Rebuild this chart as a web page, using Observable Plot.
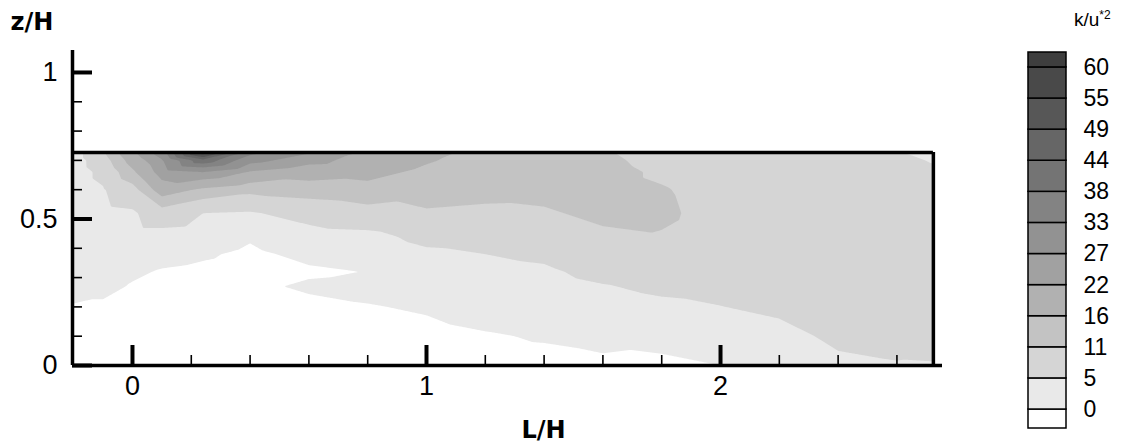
<!DOCTYPE html>
<html><head><meta charset="utf-8">
<script src="https://cdn.jsdelivr.net/npm/d3@7"></script>
<script src="https://cdn.jsdelivr.net/npm/@observablehq/plot@0.6"></script>
<style>
html,body{margin:0;padding:0;background:#fff;}
#wrap{position:relative;width:1130px;height:444px;overflow:hidden;font-family:"Liberation Sans",Arial,sans-serif;background:#fff;}
#main{position:absolute;left:0;top:0;}
#legend{position:absolute;left:1000px;top:0;}
#ltitle{position:absolute;left:1074px;top:9px;font-size:19px;color:#000;line-height:22px;}
#ltitle sup{font-size:12px;vertical-align:7px;line-height:0;}
</style></head><body>
<div id="wrap"><div id="main"></div><div id="legend"></div><div id="ltitle">k/u<sup>*2</sup></div></div>
<script>
// Measurement positions (L/H across the canyon, z/H height)
const xs = [-0.2, -0.1, 0, 0.1, 0.24, 0.4, 0.6, 0.8, 1.0, 1.2, 1.4, 1.6, 1.8, 2.0, 2.2, 2.4, 2.6, 2.72];
const zs = [0, 0.1, 0.2, 0.27, 0.32, 0.38, 0.44, 0.52, 0.6, 0.66, 0.7, 0.727];
// k/u*^2 values, one row per z (bottom to top), one entry per x
const kRows = [
  [-1.5, -1.6, -2, -2, -2, -2, -2, -1.8, -1.5, -1.2, -1, -0.5, -0.8, 0, 1.5, 4, 4.7, 4.8],
  [-1, -1.2, -1.6, -2, -2, -2, -1.5, -1.2, -1, -0.3, 0.3, 0.7, 1.2, 2.5, 3.5, 6, 6.5, 6.2],
  [-0.2, -0.6, -1, -1.5, -2, -2, -1, -0.2, 0.4, 1.5, 2, 3, 4.0, 4.9, 6, 7, 7, 6.6],
  [1.0, 1.0, -0.3, -1, -1.5, -0.8, 0.6, 1.0, 1.5, 2.5, 3.2, 4.7, 6.0, 6.5, 7.5, 7.6, 7.2, 6.8],
  [1.5, 1.7, 0.6, -0.3, -0.8, -1.5, -0.6, 0.1, 2.5, 3.5, 4.2, 6.5, 7.3, 8.4, 8.2, 8, 7.3, 6.9],
  [1.9, 2.3, 2.0, 1.3, 0.5, -0.8, 1.0, 1.8, 4, 5, 6, 8.5, 8.8, 9.2, 8.7, 8.3, 7.5, 7],
  [2.1, 2.8, 3.0, 3.0, 2.4, 0.5, 3, 3.5, 6.5, 7, 8, 10.2, 10.8, 9.8, 9, 8.5, 7.5, 7],
  [2.2, 3.5, 4.2, 8.5, 5, 4.5, 7, 9, 10.5, 10, 10.5, 12, 11.5, 10, 9, 8.5, 7.5, 6.8],
  [2.3, 4.6, 9, 19, 15, 12.5, 13.5, 14.5, 13, 12.5, 12.3, 12.5, 11.3, 9.5, 8.5, 8, 7, 6.2],
  [2.3, 6.5, 15, 24.5, 27, 21.5, 18.4, 17.5, 15, 13.5, 13.2, 12.5, 10.3, 8.8, 8, 7.5, 6.5, 5.5],
  [2.4, 8.5, 18.5, 26.5, 42, 29, 24, 19.5, 16.5, 14, 13.8, 12, 9.5, 8.3, 7.8, 7, 5.8, 4.8],
  [2.5, 10.5, 21, 30, 59, 35, 27.5, 21, 17.5, 14.5, 14, 11.5, 9, 8, 7.5, 6.5, 5.2, 4.0]
];
// contour levels (legend labels) and their grey fills (first = below lowest level)
const levels = [0, 5, 11, 16, 22, 27, 33, 38, 44, 49, 55, 60];
const grays = ["#ffffff", "#e9e9e9", "#d5d5d5", "#c3c3c3", "#b1b1b1", "#a1a1a1", "#929292",
               "#838383", "#747474", "#666666", "#575757", "#494949", "#3e3e3e"];
// axis ticks
const xMajor = [0, 1, 2];
const xMinor = [0.2, 0.4, 0.6, 0.8, 1.2, 1.4, 1.6, 1.8, 2.2, 2.4, 2.6];
const yMajor = [0, 0.5, 1];
const yMinor = [0.1, 0.2, 0.3, 0.4, 0.6, 0.7, 0.8, 0.9];
// domains and canyon outline
const xDomain = [-0.204, 2.755];
const zDomain = [0, 1.075];
const canyonX = [-0.204, 2.724];
const canyonZ = [0, 0.727];
const legendDomain = [-0.61, 11.48];

const samples = kRows.flatMap((row, j) => row.map((k, i) => ({x: xs[i], z: zs[j], k})));
const color = {type: "threshold", domain: levels, range: grays};

const main = Plot.plot({
  width: 1000, height: 444,
  marginLeft: 72, marginRight: 58, marginTop: 50, marginBottom: 79,
  x: {domain: xDomain},
  y: {domain: zDomain},
  color,
  style: {fontFamily: "'Liberation Sans', Arial, sans-serif", background: "transparent"},
  marks: [
    Plot.contour(samples, {
      x: "x", y: "z", fill: "k", thresholds: levels, interpolate: "barycentric",
      x1: canyonX[0], x2: canyonX[1], y1: canyonZ[0], y2: canyonZ[1],
      pixelSize: 1, stroke: "none"
    }),
    Plot.ruleY([canyonZ[1]], {x1: canyonX[0], x2: canyonX[1], strokeWidth: 3.5, stroke: "#000"}),
    Plot.ruleX([canyonX[1]], {y1: canyonZ[0], y2: canyonZ[1], strokeWidth: 3.5, stroke: "#000"}),
    Plot.ruleY([0], {x1: xDomain[0], x2: xDomain[1], strokeWidth: 3.5, stroke: "#000"}),
    Plot.ruleX([xDomain[0]], {y1: zDomain[0], y2: zDomain[1], strokeWidth: 3.5, stroke: "#000"}),
    Plot.axisX(xMajor, {tickSize: -20, strokeWidth: 4, tickPadding: 30, fontSize: 27, label: null, tickFormat: d => String(d)}),
    Plot.axisX(xMinor, {tickSize: -10, strokeWidth: 1.6, tickFormat: () => "", label: null}),
    Plot.axisY(yMajor, {tickSize: -20, strokeWidth: 4, tickPadding: 35, fontSize: 27, label: null, tickFormat: d => String(d)}),
    Plot.axisY(yMinor, {tickSize: -10, strokeWidth: 1.6, tickFormat: () => "", label: null}),
    Plot.text(["z/H"], {frameAnchor: "top-left", text: d => d, dx: -62, dy: -38, textAnchor: "start",
      fontSize: 24, fontWeight: "bold", fontFamily: "DejaVu Sans", fill: "#000"}),
    Plot.text(["L/H"], {frameAnchor: "bottom", text: d => d, dx: 36, dy: 72,
      fontSize: 24, fontWeight: "bold", fontFamily: "DejaVu Sans", fill: "#000"})
  ]
});
document.getElementById("main").append(main);

const legendBands = [{lo: levels[0] - 1, i1: legendDomain[0], i2: 0}]
  .concat(levels.map((v, i) => ({lo: v, i1: i, i2: i + 1 < levels.length ? i + 1 : legendDomain[1]})));

const legend = Plot.plot({
  width: 130, height: 444, margin: 0,
  x: {domain: [0, 1], range: [28, 66], axis: null},
  y: {domain: legendDomain, range: [428, 52], axis: null},
  color,
  style: {fontFamily: "'Liberation Sans', Arial, sans-serif", background: "transparent"},
  marks: [
    Plot.rect(legendBands, {x1: 0, x2: 1, y1: "i1", y2: "i2", fill: "lo", stroke: "#000", strokeWidth: 1.5}),
    Plot.text(levels, {x: 1, y: (d, i) => i, text: d => String(d), dx: 17, textAnchor: "start", fontSize: 23, fill: "#000"})
  ]
});
document.getElementById("legend").append(legend);
</script>
</body></html>
